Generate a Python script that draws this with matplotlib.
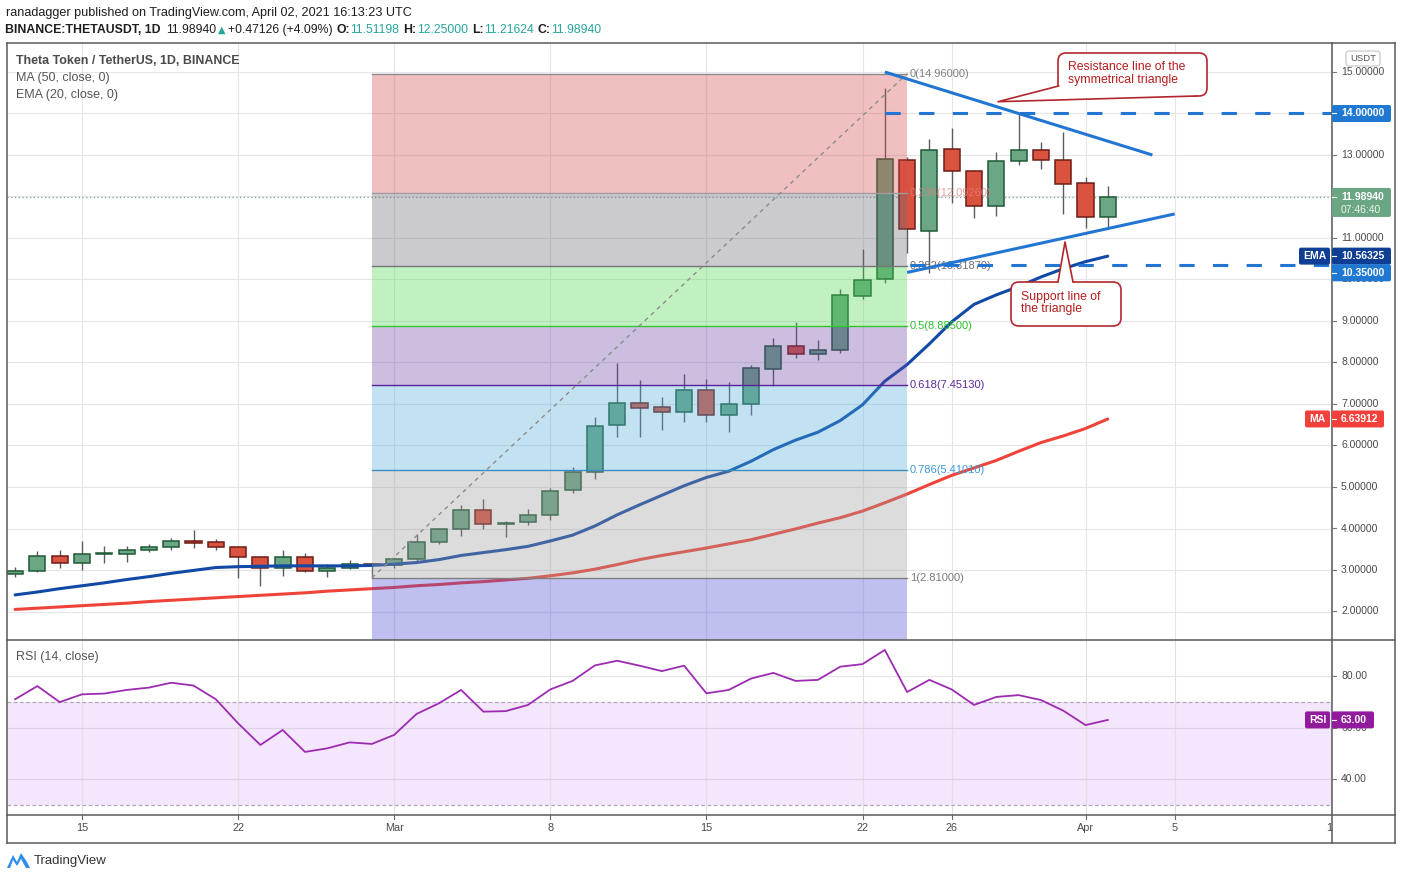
import numpy as np
import pandas as pd
import matplotlib
matplotlib.use('Agg')
import matplotlib.pyplot as plt
from matplotlib.patches import Rectangle, FancyBboxPatch, Polygon
from matplotlib.lines import Line2D

# ---------------- data ----------------
dates = pd.date_range('2021-02-12', '2021-04-02', freq='D')
opens = [2.90, 2.97, 3.34, 3.16, 3.38, 3.38, 3.49, 3.55, 3.69, 3.67, 3.55, 3.31, 3.04, 3.31, 2.97, 3.04, 3.14,
         3.12, 3.26, 3.67, 3.98, 4.44, 4.10, 4.15, 4.32, 4.92, 5.35, 6.49, 7.02, 6.92, 6.80, 7.33, 6.73, 6.99,
         7.84, 8.39, 8.20, 8.30, 9.60, 10.00, 12.88, 11.18, 13.14, 12.61, 11.78, 12.85, 13.12, 12.88,
         12.32, 11.51198]
highs = [3.08, 3.46, 3.48, 3.70, 3.58, 3.58, 3.63, 3.78, 3.96, 3.75, 3.57, 3.34, 3.48, 3.42, 3.14, 3.24, 3.16,
         3.30, 3.86, 4.02, 4.57, 4.71, 4.18, 4.47, 4.98, 5.48, 6.69, 7.99, 7.58, 7.17, 7.72, 7.60, 7.53, 7.95,
         8.58, 8.98, 8.54, 9.78, 10.73, 14.61, 12.95, 13.39, 13.65, 12.64, 13.07, 14.01, 13.32, 13.56,
         12.46, 12.25]
lows = [2.84, 2.94, 3.06, 3.00, 3.18, 3.20, 3.44, 3.47, 3.54, 3.49, 2.81, 2.62, 2.86, 2.94, 2.84, 3.02, 2.81,
        3.05, 3.20, 3.62, 3.83, 4.00, 3.80, 4.08, 4.20, 4.86, 5.20, 6.21, 6.21, 6.38, 6.57, 6.57, 6.33, 6.74,
        7.44, 8.12, 8.06, 8.23, 9.52, 9.92, 10.65, 10.15, 11.85, 11.47, 11.54, 12.76, 12.66, 11.58,
        11.25, 11.21624]
closes = [2.98, 3.34, 3.16, 3.39, 3.40, 3.47, 3.55, 3.69, 3.66, 3.55, 3.31, 3.04, 3.31, 2.97, 3.04, 3.14, 3.12,
          3.26, 3.67, 3.98, 4.44, 4.10, 4.13, 4.32, 4.90, 5.35, 6.46, 7.02, 6.90, 6.80, 7.33, 6.73, 6.99, 7.86,
          8.39, 8.20, 8.30, 9.62, 9.99, 12.90, 11.21, 13.12, 12.61, 11.78, 12.86, 13.12, 12.87, 12.31,
          11.50, 11.98940]
ema20 = [2.40, 2.47, 2.55, 2.62, 2.69, 2.77, 2.84, 2.92, 2.99, 3.06, 3.08, 3.09, 3.10, 3.10, 3.10, 3.10, 3.11,
         3.14, 3.18, 3.25, 3.35, 3.42, 3.49, 3.57, 3.70, 3.84, 4.06, 4.33, 4.57, 4.80, 5.03, 5.23, 5.38, 5.62,
         5.90, 6.13, 6.32, 6.60, 6.98, 7.55, 7.95, 8.45, 8.98, 9.40, 9.63, 9.83, 10.06, 10.26,
         10.43, 10.56325]
ma50 = [2.05, 2.08, 2.11, 2.14, 2.17, 2.20, 2.24, 2.27, 2.30, 2.33, 2.36, 2.39, 2.42, 2.45, 2.49, 2.52, 2.55,
        2.58, 2.62, 2.65, 2.69, 2.72, 2.76, 2.80, 2.86, 2.93, 3.02, 3.13, 3.25, 3.35, 3.44, 3.53, 3.63, 3.73,
        3.86, 3.99, 4.13, 4.26, 4.42, 4.62, 4.83, 5.06, 5.28, 5.46, 5.64, 5.86, 6.07, 6.23,
        6.41, 6.63912]
rsi = [71.0, 76.1, 69.9, 72.9, 73.2, 74.6, 75.5, 77.4, 76.3, 71.0, 61.7, 53.3, 59.1, 50.6, 52.0, 54.3, 53.7,
       57.2, 65.3, 69.4, 74.6, 66.2, 66.4, 68.8, 74.8, 78.1, 84.1, 85.9, 84.0, 81.9, 84.0, 73.3, 74.6, 79.0,
       81.2, 78.1, 78.5, 83.6, 84.6, 90.1, 73.8, 78.5, 74.8, 68.8, 71.9, 72.6, 70.7, 66.6,
       61.0, 63.0]

fib_start, fib_end = '2021-02-28', '2021-03-24'
fib_levels = ['0', '0.236', '0.382', '0.5', '0.618', '0.786', '1']
fib_prices = [14.96, 12.0926, 10.3187, 8.885, 7.4513, 5.4101, 2.81]
fib_label_vals = ['14.96000', '12.09260', '10.31870', '8.88500', '7.45130', '5.41010', '2.81000']

res_line = [('2021-03-23', 15.00), ('2021-04-04', 13.00)]
sup_line = [('2021-03-24', 10.17), ('2021-04-05', 11.58)]
hline_top = ('2021-03-23', 14.0)
hline_bot = ('2021-03-24', 10.35)

tick_dates = ['2021-02-15', '2021-02-22', '2021-03-01', '2021-03-08', '2021-03-15', '2021-03-22',
              '2021-03-26', '2021-04-01', '2021-04-05', '2021-04-12']
tick_labels = ['15', '22', 'Mar', '8', '15', '22', '26', 'Apr', '5', '12']
price_ticks = list(range(2, 16))
rsi_ticks = [40, 60, 80]

# ---------------- helpers ----------------
REF = pd.Timestamp('2021-02-15')
def dx(d):
    return (pd.Timestamp(d) - REF).days
xs = np.array([(d - REF).days for d in dates], dtype=float)

W, H = 1402, 880
NUM = ['Liberation Sans', 'DejaVu Sans']
HDR = ['Liberation Sans', 'DejaVu Sans']

fig = plt.figure(figsize=(W / 100, H / 100), dpi=100)
fig.patch.set_facecolor('white')

def frac(x0, y0, x1, y1):
    return [x0 / W, 1 - y1 / H, (x1 - x0) / W, (y1 - y0) / H]

ax = fig.add_axes(frac(7, 43, 1332, 640))
rax = fig.add_axes(frac(7, 640, 1332, 815))
ov = fig.add_axes([0, 0, 1, 1], zorder=10)
ov.set_xlim(0, W); ov.set_ylim(H, 0); ov.axis('off'); ov.patch.set_alpha(0)

def p_of(y):
    return 15 - (y - 72) / 41.5
XL = ((7 - 82) / 22.3, (1332 - 82) / 22.3)
for a in (ax, rax):
    a.set_xlim(*XL)
    a.set_xticks([]); a.set_yticks([])
    for s in a.spines.values():
        s.set_visible(False)
ax.set_ylim(p_of(640), p_of(43))
rax.set_ylim(80 - (815 - 676) / 2.583, 80 - (640 - 676) / 2.583)

def pix_y(a, v):
    return H - a.transData.transform((0, v))[1]
def pix_x(a, d):
    return a.transData.transform((d, 0))[0]

GRID = '#e6e6e8'
txs = [dx(d) for d in tick_dates]
for t in txs:
    ax.axvline(t, color=GRID, lw=0.8, zorder=0.5)
    rax.axvline(t, color='#e3dde8', lw=0.8, zorder=0.6)
for p in price_ticks:
    ax.axhline(p, color=GRID, lw=0.8, zorder=0.5)

# ---------------- candles ----------------
up_fc, up_ec = '#6ba784', '#1f5a36'
dn_fc, dn_ec = '#d9533f', '#6e1c16'
o = np.array(opens); c = np.array(closes)
up = c >= o
ax.vlines(xs, lows, highs, color='#5c5c5c', lw=1.0, zorder=2)
ax.bar(xs, np.maximum(np.abs(c - o), 0.035), bottom=np.minimum(o, c), width=0.72,
       color=[up_fc if u else dn_fc for u in up], edgecolor=[up_ec if u else dn_ec for u in up],
       linewidth=1.1, zorder=2.1)

ax.plot(xs, ma50, color='#f0443a', lw=2.2, zorder=2.5, solid_capstyle='round')
ax.plot(xs, ema20, color='#1049a6', lw=2.2, zorder=2.6, solid_capstyle='round')

# current price dotted
ax.axhline(closes[-1], color='#7fa890', lw=0.9, ls=(0, (1, 2)), zorder=1.5)

# ---------------- fib retracement ----------------
fx0, fx1 = dx(fib_start), dx(fib_end)
zone_cols = ['#d44b4b', '#6a6a76', '#4ed74e', '#6d45a6', '#51acda', '#9b9b9b']
edges = fib_prices + [-6]
for i in range(7):
    col = zone_cols[i] if i < 6 else '#4b4bd4'
    ax.add_patch(Rectangle((fx0, edges[i + 1]), fx1 - fx0, edges[i] - edges[i + 1],
                           fc=col, ec='none', alpha=0.35, zorder=3))
line_cols = ['#8a8a8a', '#a09aa0', '#757575', '#33c633', '#5a1f9a', '#3b8ec4', '#808080']
lab_cols = ['#808080', '#e57f7f', '#6f6f6f', '#2fbf2f', '#5a2a9c', '#3a9ad9', '#7a7a7a']
for lv, pr, lc, tc, lv_txt in zip(fib_levels, fib_prices, line_cols, lab_cols, fib_label_vals):
    ax.plot([fx0, fx1], [pr, pr], color=lc, lw=1.0, zorder=3.1)
    ax.text(fx1 + 0.12, pr, f'{lv}({lv_txt})', color=tc, fontsize=8, family=NUM,
            va='center', ha='left', zorder=3.3, alpha=0.75 if lv == '0.236' else 1.0)
ax.plot([fx0, fx1], [fib_prices[-1], fib_prices[0]], color='#8c8c8c', lw=1.0,
        ls=(0, (3, 3)), zorder=3.2)

# ---------------- trend lines ----------------
TL = '#2276d2'
ax.plot([dx(res_line[0][0]), dx(res_line[1][0])], [res_line[0][1], res_line[1][1]],
        color=TL, lw=2.2, zorder=4, solid_capstyle='butt')
ax.plot([dx(sup_line[0][0]), dx(sup_line[1][0])], [sup_line[0][1], sup_line[1][1]],
        color=TL, lw=2.2, zorder=4, solid_capstyle='butt')
ax.plot([dx(hline_top[0]), XL[1]], [hline_top[1]] * 2, color=TL, lw=2.2, ls=(0, (5, 6)), zorder=4)
ax.plot([dx(hline_bot[0]) + 0.15, XL[1]], [hline_bot[1]] * 2, color=TL, lw=2.2, ls=(0, (5, 6)), zorder=4)

# ---------------- RSI ----------------
rax.axhspan(30, 70, color='#f3e6fd', zorder=0.4, lw=0)
for v in rsi_ticks:
    rax.axhline(v, color='#ddd3e6' if v < 70 else GRID, lw=0.9, zorder=0.7)
for v in (30, 70):
    rax.axhline(v, color='#b3a7bb', lw=0.9, ls=(0, (3, 2)), zorder=0.8)
rax.plot(xs, rsi, color='#9c2bb0', lw=1.3, zorder=3)

# ---------------- frame ----------------
FR = '#5a5a5a'
for seg in [((7, 43), (1395, 43)), ((7, 43), (7, 843)), ((1395, 43), (1395, 843)), ((7, 843), (1395, 843)),
            ((7, 640), (1395, 640)), ((7, 815), (1395, 815)), ((1332, 43), (1332, 843))]:
    ov.add_line(Line2D([seg[0][0], seg[1][0]], [seg[0][1], seg[1][1]], color=FR, lw=1.1, zorder=1))

# price axis ticks/labels
for p in price_ticks:
    y = pix_y(ax, p)
    ov.plot([1332, 1336], [y, y], color='#777', lw=0.8)
    ov.text(1341, y, f'{p:.5f}', fontsize=7.5, family=NUM, color='#4a4a4a', va='center', ha='left')
for v in rsi_ticks:
    y = pix_y(rax, v)
    ov.plot([1332, 1336], [y, y], color='#777', lw=0.8)
    ov.text(1341, y, f'{v:.2f}', fontsize=7.5, family=NUM, color='#4a4a4a', va='center', ha='left')

# time axis
for t, lab in zip(txs, tick_labels):
    x = pix_x(ax, t)
    if x > 1325:
        ov.text(1332, 828, lab[0], fontsize=7.8, family=NUM, color='#4a4a4a', va='center', ha='right')
        continue
    ov.plot([x, x], [815, 819], color='#666', lw=0.8)
    ov.text(x, 828, lab, fontsize=7.8, family=NUM, color='#4a4a4a', va='center', ha='center')

def tag(x0, x1, yc, txt, bg, h=17, fs=7.5, bold=True, fg='white'):
    ov.add_patch(FancyBboxPatch((x0, yc - h / 2), x1 - x0, h, boxstyle='round,pad=0,rounding_size=2',
                                fc=bg, ec='none', zorder=20))
    ov.text((x0 + x1) / 2, yc, txt, fontsize=fs, family=NUM, color=fg, va='center', ha='center',
            fontweight='bold' if bold else 'normal', zorder=21)

def vbox(yc, txt, bg, x1=1391, h=17):
    ov.add_patch(FancyBboxPatch((1332, yc - h / 2), x1 - 1332, h, boxstyle='round,pad=0,rounding_size=2',
                                fc=bg, ec='none', zorder=20))
    ov.plot([1332, 1336], [yc, yc], color='white', lw=0.8, zorder=21)
    ov.text(1341, yc, txt, fontsize=7.5, family=NUM, color='white', va='center', ha='left',
            fontweight='bold', zorder=21)

vbox(pix_y(ax, 14.0), '14.00000', '#1f78d1')
# last price box (two lines)
yl = pix_y(ax, closes[-1])
ov.add_patch(FancyBboxPatch((1332, yl - 9), 59, 29, boxstyle='round,pad=0,rounding_size=2',
                            fc='#6aa683', ec='none', zorder=20))
ov.text(1341, yl + 0.5, '11.98940', fontsize=7.5, family=NUM, color='white', va='center', ha='left',
        fontweight='bold', zorder=21)
ov.text(1341, yl + 13, '07:46:40', fontsize=7.5, family=NUM, color='#eef6f0', va='center', ha='left',
        zorder=21)
ov.plot([1332, 1336], [yl, yl], color='white', lw=0.8, zorder=21)
ye = pix_y(ax, ema20[-1])
tag(1299, 1330, ye, 'EMA', '#0e3f94')
vbox(ye, '10.56325', '#0e3f94')
# 10.35 label is pushed just below the EMA label (as the platform stacks them)
vbox(ye + 16.7, '10.35000', '#1f78d1')
ym = pix_y(ax, ma50[-1])
tag(1305, 1330, ym, 'MA', '#f2403a')
vbox(ym, '6.63912', '#f2403a', x1=1384)
yr = pix_y(rax, rsi[-1])
tag(1305, 1330, yr, 'RSI', '#921a9c')
vbox(yr, '63.00', '#921a9c', x1=1374)
ov.add_patch(FancyBboxPatch((1346, 51), 34, 15, boxstyle='round,pad=0,rounding_size=3',
                            fc='white', ec='#c9c9cf', lw=0.9, zorder=20))
ov.text(1363, 58.5, 'USDT', fontsize=6.8, family=NUM, color='#555', va='center', ha='center', zorder=21)

# ---------------- callouts ----------------
CR = '#b3262d'
TX = '#b71c1c'
ov.add_patch(FancyBboxPatch((1058, 53), 149, 43, boxstyle='round,pad=0,rounding_size=8',
                            fc='white', ec=CR, lw=1.2, zorder=12))
ov.add_patch(Polygon([(1058.6, 86), (998, 101.7), (1195, 96), (1195, 91.5), (1060, 91.5)],
                     closed=True, fc='white', ec='none', zorder=13))
ov.plot([1058.6, 998, 1196], [86, 101.7, 96], color=CR, lw=1.2, zorder=14)
ov.text(1068, 67, 'Resistance line of the', fontsize=8.8, family=NUM, color=TX, va='center', ha='left', zorder=15)
ov.text(1068, 80, 'symmetrical triangle', fontsize=8.8, family=NUM, color=TX, va='center', ha='left', zorder=15)

ov.add_patch(FancyBboxPatch((1011, 282), 110, 44, boxstyle='round,pad=0,rounding_size=8',
                            fc='white', ec=CR, lw=1.2, zorder=12))
ov.add_patch(Polygon([(1058, 283.5), (1065, 242), (1073, 283.5)], closed=True, fc='white', ec='none', zorder=13))
ov.plot([1058, 1065, 1073], [282, 242, 282], color=CR, lw=1.2, zorder=14)
ov.text(1021, 297, 'Support line of', fontsize=8.8, family=NUM, color=TX, va='center', ha='left', zorder=15)
ov.text(1021, 309, 'the triangle', fontsize=8.8, family=NUM, color=TX, va='center', ha='left', zorder=15)

# ---------------- header & legend ----------------
ov.text(6, 13, 'ranadagger published on TradingView.com, April 02, 2021 16:13:23 UTC', fontsize=9.1,
        family=HDR, color='#1e1e1e', va='center', ha='left')
TEAL = '#26a69a'
pieces = [('BINANCE:THETAUSDT, 1D', '#1e1e1e', 'bold', 5), ('11.98940', '#1e1e1e', 'normal', 2),
          ('▲', TEAL, 'normal', 2), ('+0.47126 (+4.09%)', '#1e1e1e', 'normal', 4),
          ('O:', '#1e1e1e', 'bold', 0.5), ('11.51198', TEAL, 'normal', 4),
          ('H:', '#1e1e1e', 'bold', 0.5), ('12.25000', TEAL, 'normal', 4),
          ('L:', '#1e1e1e', 'bold', 0.5), ('11.21624', TEAL, 'normal', 4),
          ('C:', '#1e1e1e', 'bold', 0.5), ('11.98940', TEAL, 'normal', 0)]
renderer = fig.canvas.get_renderer()
xcur = 5.4
for s, col, wt, gap in pieces:
    fam = ['DejaVu Sans'] if s == '▲' else HDR
    t = ov.text(xcur, 30, s, fontsize=8.8 if s != '▲' else 7, family=fam, color=col, fontweight=wt,
                va='center', ha='left')
    xcur += t.get_window_extent(renderer).width + gap

ov.text(15.5, 61, 'Theta Token / TetherUS, 1D, BINANCE', fontsize=8.9, family=HDR, color='#4a4a4a',
        fontweight='bold', va='center', ha='left')
ov.text(15.5, 78, 'MA (50, close, 0)', fontsize=9, family=HDR, color='#555', va='center', ha='left')
ov.text(15.5, 95, 'EMA (20, close, 0)', fontsize=9, family=HDR, color='#555', va='center', ha='left')
ov.text(15.5, 657, 'RSI (14, close)', fontsize=9, family=HDR, color='#555', va='center', ha='left')

# TradingView logo + text
ov.add_patch(Polygon([(7, 868), (13, 855), (17, 862), (21, 853), (27, 862), (30, 868), (26, 868),
                      (21, 859), (17, 866), (13, 860), (10, 868)], closed=True, fc='#2e8ee8', ec='none'))
ov.text(34, 861, 'TradingView', fontsize=9.5, family=HDR, color='#333', va='center', ha='left')

fig.savefig('out.png', dpi=100, facecolor='white')
